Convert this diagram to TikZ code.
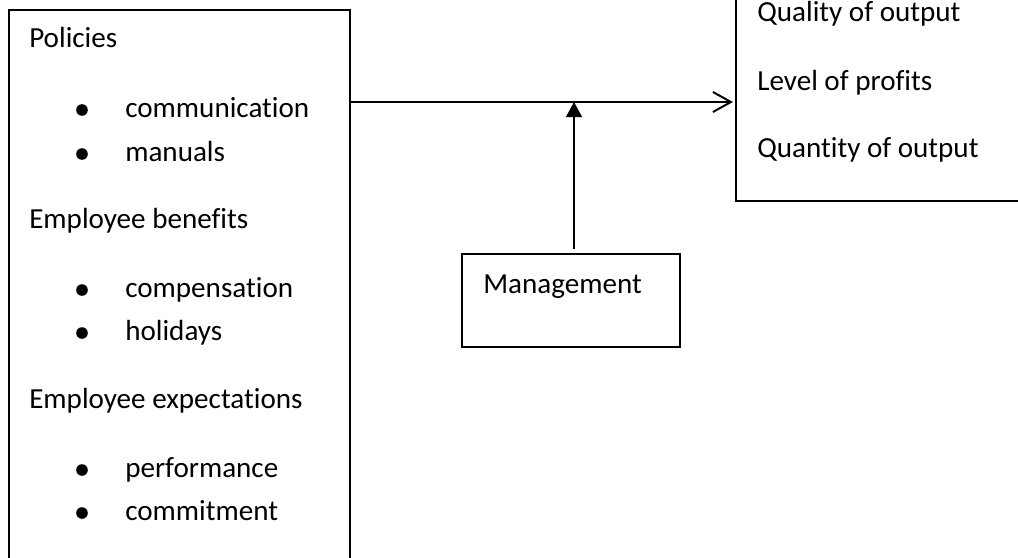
\documentclass[tikz,border=0pt]{standalone}
\usepackage{fontspec}
\setmainfont{Carlito}[Ligatures=NoCommon]
\usetikzlibrary{arrows.meta, positioning, calc}

\begin{document}
\begin{tikzpicture}[x=0.025cm, y=-0.025cm,
    font=\fontsize{20.7}{25}\selectfont,
    box/.style={draw, line width=0.9pt, inner sep=0pt, outer sep=0pt},
    txt/.style={anchor=base west, inner sep=0pt},
    dot/.style={circle, fill, inner sep=0pt, minimum size=0.29cm},
    flow/.style={line width=1.4pt}]
    \useasboundingbox (0,0) rectangle (1018,558);
    \clip (0,0) rectangle (1018,558);

    % the three boxes
    \node[box, minimum width=8.525cm, minimum height=14.25cm] (inputs) at (179.5,295) {};
    \node[box, minimum width=7.35cm, minimum height=5.275cm] (outputs) at (883,95.5) {};
    \node[box, minimum width=5.45cm, minimum height=2.325cm] (mgmt) at (571,300.5) {};

    % left box text
    \node[txt] (pol) at (29,48) {Policies};
    \node[dot] (pola) at (82,110) {};
    \node[txt] (polat) at (125,117) {communication};
    \node[dot] (polb) at (82,154) {};
    \node[txt] (polbt) at (125,161) {manuals};
    \node[txt] (ben) at (29,228) {Employee benefits};
    \node[dot] (bena) at (82,290) {};
    \node[txt] (benat) at (125,297) {compensation};
    \node[dot] (benb) at (82,333) {};
    \node[txt] (benbt) at (125,340) {holidays};
    \node[txt] (exp) at (29,408) {Employee expectations};
    \node[dot] (expa) at (82,470) {};
    \node[txt] (expat) at (125,477) {performance};
    \node[dot] (expb) at (82,513) {};
    \node[txt] (expbt) at (125,520) {commitment};

    % right box text
    \node[txt] (qual) at (757,22) {Quality of output};
    \node[txt] (prof) at (757,90) {Level of profits};
    \node[txt] (quant) at (757,157) {Quantity of output};

    \node[txt] (mgmtlbl) at (483,293) {Management};

    % connectors
    \coordinate (join) at (574,102);
    \draw[flow, -{Straight Barb[length=0.45cm, width=0.5cm]}, shorten >=0.075cm]
        (inputs.east |- join) -- (outputs.west |- join);
    \draw[flow, -{Triangle[length=0.38cm, width=0.4cm]}, shorten <=0.125cm]
        (join |- mgmt.north) -- (join);
\end{tikzpicture}
\end{document}
